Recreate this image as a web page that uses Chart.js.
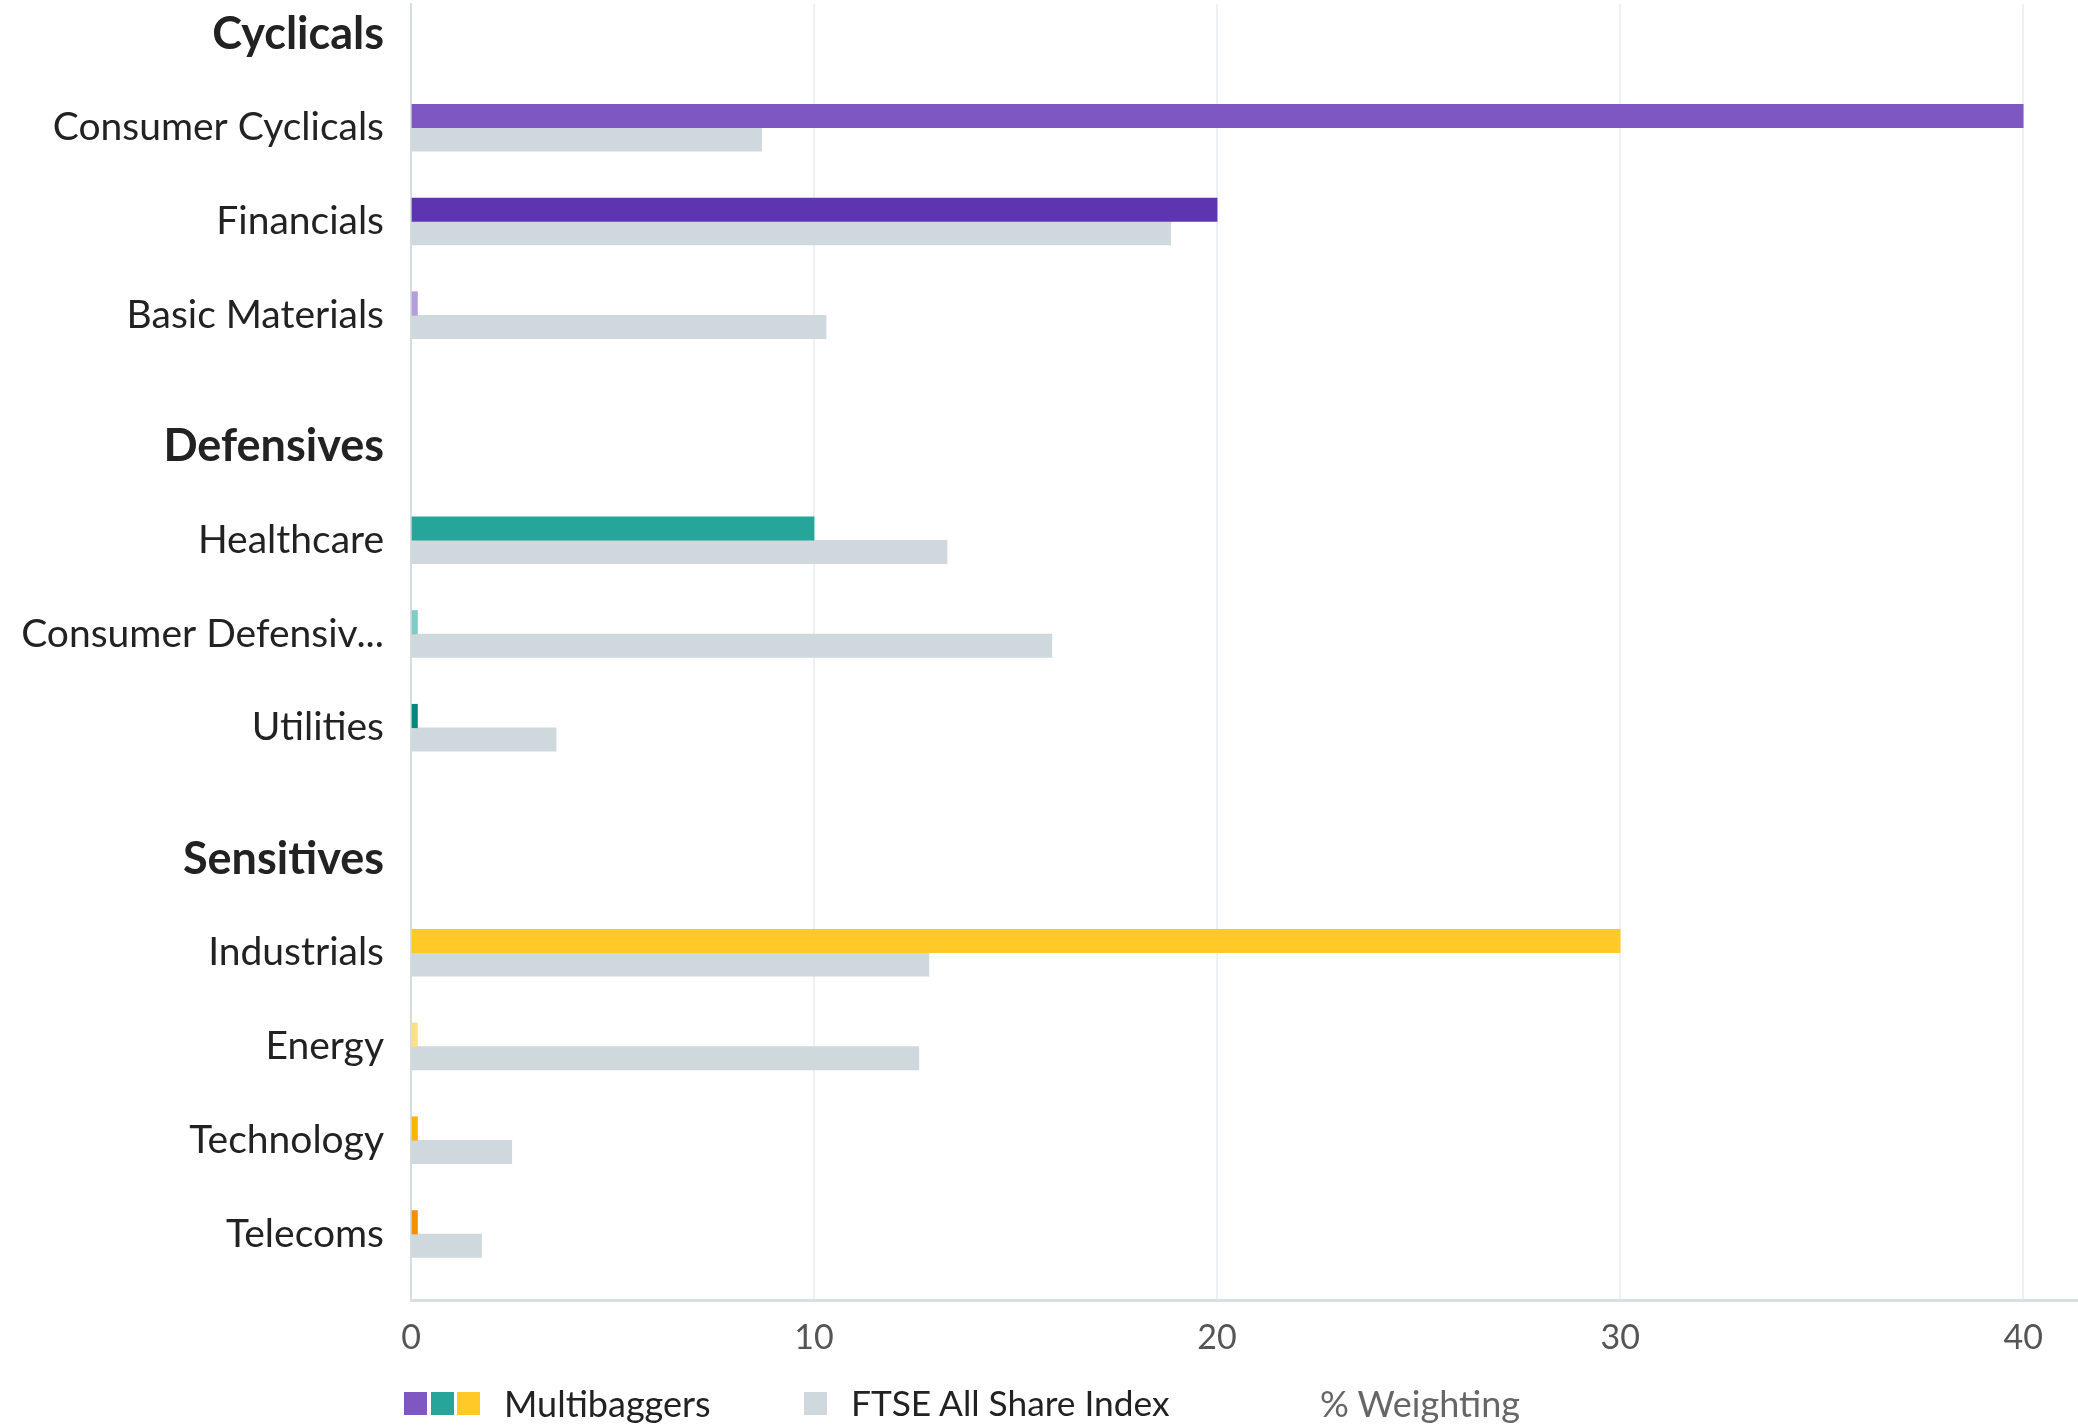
<!DOCTYPE html>
<html>
<head>
<meta charset="utf-8">
<script src="https://cdn.jsdelivr.net/npm/chart.js@4.4.1/dist/chart.umd.min.js"></script>
<style>
  html, body { margin: 0; padding: 0; background: #ffffff; }
  #wrap { position: relative; width: 2078px; height: 1425px; overflow: hidden; }
  #chart { position: absolute; left: 0; top: 0; }
  #legend { position: absolute; left: 0; top: 0; width: 2078px; height: 1425px; pointer-events: none;
            font-family: Lato, "Open Sans", sans-serif; font-size: 36px; color: #222; }
  .sw { position: absolute; width: 23px; height: 23px; top: 1392px; }
  .lt { position: absolute; top: 1381px; line-height: 44px; white-space: nowrap; }
</style>
</head>
<body>
<div id="wrap">
  <canvas id="chart" width="2078" height="1425"></canvas>
  <div id="legend"></div>
</div>
<script>
// ---------------- data ----------------
const groupNames = ['Cyclicals', 'Defensives', 'Sensitives'];
const cyclicalSectors = ['Consumer Cyclicals', 'Financials', 'Basic Materials'];
const defensiveSectors = ['Healthcare', 'Consumer Defensiv...', 'Utilities'];
const sensitiveSectors = ['Industrials', 'Energy', 'Technology', 'Telecoms'];

const multibaggersCyclicals = [40, 20, 0.16];
const multibaggersDefensives = [10, 0.16, 0.16];
const multibaggersSensitives = [30, 0.16, 0.16, 0.16];

const ftseCyclicals = [8.7, 18.85, 10.3];
const ftseDefensives = [13.3, 15.9, 3.6];
const ftseSensitives = [12.85, 12.6, 2.5, 1.75];

const xTickValues = [0, 10, 20, 30, 40];
const seriesNames = ['Multibaggers', 'FTSE All Share Index'];
const axisTitle = '% Weighting';

// ---------------- styles ----------------
const cyclicalColors = ['#7e57c2', '#5e35b1', '#b39ddb'];
const defensiveColors = ['#26a69a', '#80cbc4', '#00897b'];
const sensitiveColors = ['#ffca28', '#ffe082', '#ffb300', '#fb8c00'];
const ftseColor = '#cfd8dc';
const GROUP_GAP = 0.4;   // extra spacing (in rows) before each new group

// ---------------- build rows ----------------
const sectorsByGroup = [cyclicalSectors, defensiveSectors, sensitiveSectors];
const multiByGroup = [multibaggersCyclicals, multibaggersDefensives, multibaggersSensitives];
const ftseByGroup = [ftseCyclicals, ftseDefensives, ftseSensitives];
const colorsByGroup = [cyclicalColors, defensiveColors, sensitiveColors];

const rows = [];
const multiData = [], ftseData = [], multiColors = [];
let r = 0;
groupNames.forEach((g, gi) => {
  rows.push({ label: g, header: true, pos: r + GROUP_GAP * gi });
  r++;
  sectorsByGroup[gi].forEach((s, si) => {
    const pos = r + GROUP_GAP * gi;
    rows.push({ label: s, header: false, pos: pos });
    multiData.push({ x: multiByGroup[gi][si], y: pos });
    ftseData.push({ x: ftseByGroup[gi][si], y: pos });
    multiColors.push(colorsByGroup[gi][si]);
    r++;
  });
});
const lastPos = rows[rows.length - 1].pos;

new Chart(document.getElementById('chart'), {
  type: 'bar',
  data: {
    datasets: [
      { label: seriesNames[0], data: multiData, backgroundColor: multiColors, barThickness: 23.5 },
      { label: seriesNames[1], data: ftseData, backgroundColor: ftseColor, barThickness: 23.5 }
    ]
  },
  options: {
    indexAxis: 'y',
    responsive: false,
    animation: false,
    devicePixelRatio: 1,
    layout: { padding: { top: 4, left: 0, right: 0, bottom: 0 } },
    plugins: { legend: { display: false }, tooltip: { enabled: false } },
    scales: {
      y: {
        type: 'linear',
        reverse: true,
        offset: false,
        min: -0.32,
        max: lastPos + 0.704,
        afterBuildTicks: (scale) => { scale.ticks = rows.map(rw => ({ value: rw.pos })); },
        afterFit: (scale) => { scale.width = 411; scale.paddingTop = 0; scale.paddingBottom = 0; },
        grid: { display: false, drawTicks: false, offset: false },
        border: { display: true, color: '#d3dde2', width: 2 },
        ticks: {
          autoSkip: false,
          padding: 27,
          color: '#222222',
          callback: (v, i) => rows[i] ? rows[i].label : '',
          font: (ctx) => {
            const rw = rows[ctx.index];
            return rw && rw.header
              ? { family: 'Lato', size: 45, weight: 'bold' }
              : { family: 'Lato', size: 39, weight: 'normal' };
          }
        }
      },
      x: {
        type: 'linear',
        min: 0,
        max: 41.36,
        afterBuildTicks: (scale) => { scale.ticks = xTickValues.map(v => ({ value: v })); },
        afterFit: (scale) => { scale.height = 125; scale.paddingLeft = 0; scale.paddingRight = 0; },
        grid: { color: '#eef1f3', lineWidth: 2, drawTicks: false },
        border: { display: true, color: '#d6dfe3', width: 3 },
        ticks: { autoSkip: false, padding: 18, color: '#555555', font: { family: 'Lato', size: 34 } }
      }
    }
  }
});

// ---------------- legend (HTML text) ----------------
const legend = document.getElementById('legend');
function add(cls, left, css, text) {
  const d = document.createElement('div');
  d.className = cls;
  d.style.left = left + 'px';
  if (css) Object.assign(d.style, css);
  if (text) d.textContent = text;
  legend.appendChild(d);
}
[cyclicalColors[0], defensiveColors[0], sensitiveColors[0]].forEach((c, i) => add('sw', 404 + i * 26.5, { background: c }));
add('lt', 504, null, seriesNames[0]);
add('sw', 804, { background: ftseColor });
add('lt', 851, { fontSize: '35.3px' }, seriesNames[1]);
add('lt', 1320, { color: '#666666' }, axisTitle);
</script>
</body>
</html>
